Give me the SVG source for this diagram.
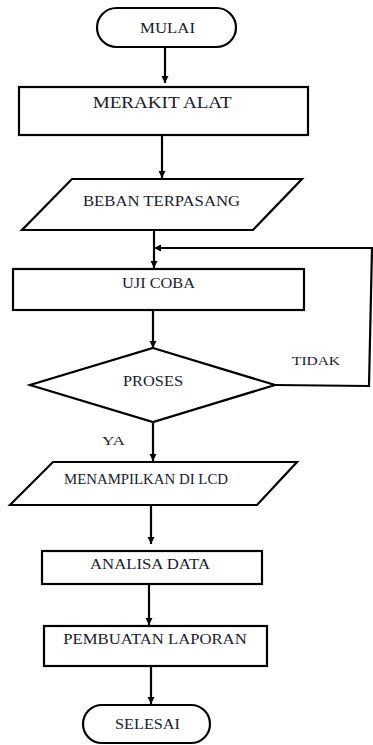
<svg xmlns="http://www.w3.org/2000/svg" width="373" height="745" viewBox="0 0 373 745">
<style>
.s{fill:#fff;stroke:#000;stroke-width:2.2}
.c{fill:none;stroke:#000;stroke-width:2.2}
text{font-family:'Liberation Serif','DejaVu Serif',serif;font-size:15px;fill:#1a1a2e}
</style>
<defs>
<marker id="ah" viewBox="0 0 8 8" refX="8" refY="4" markerWidth="3.4" markerHeight="3.2" orient="auto" markerUnits="strokeWidth">
<path d="M0,0 L8,4 L0,8 z" fill="#000"/>
</marker>
</defs>
<rect width="373" height="745" fill="#fff"/>
<g id="connectors">
<line class="c" x1="165" y1="47" x2="165" y2="83" marker-end="url(#ah)"/>
<line class="c" x1="162" y1="135" x2="162" y2="178" marker-end="url(#ah)"/>
<line class="c" x1="154" y1="230" x2="154" y2="268" marker-end="url(#ah)"/>
<line class="c" x1="153" y1="310" x2="153" y2="348" marker-end="url(#ah)"/>
<polyline class="c" points="275,385 369,386 372,248 154,248" marker-end="url(#ah)"/>
<line class="c" x1="153" y1="422" x2="153" y2="461" marker-end="url(#ah)"/>
<line class="c" x1="151" y1="505" x2="151" y2="544" marker-end="url(#ah)"/>
<line class="c" x1="149" y1="584" x2="149" y2="625" marker-end="url(#ah)"/>
<line class="c" x1="151" y1="666" x2="151" y2="704" marker-end="url(#ah)"/>
</g>
<g id="mulai">
<rect class="s" x="97" y="8" width="139" height="39" rx="19.5"/>
<text x="140" y="33" font-family="Liberation Serif, serif" textLength="55" lengthAdjust="spacingAndGlyphs">MULAI</text>
</g>
<g id="merakit">
<rect class="s" x="19" y="87" width="289" height="48"/>
<text x="92.7" y="107.7" font-family="Liberation Serif, serif" textLength="139" lengthAdjust="spacingAndGlyphs" style="font-size:16px">MERAKIT ALAT</text>
</g>
<g id="beban">
<polygon class="s" points="72,179 302,179 253,230 22,230"/>
<text x="83" y="206" font-family="Liberation Serif, serif" textLength="157" lengthAdjust="spacingAndGlyphs">BEBAN TERPASANG</text>
</g>
<g id="ujicoba">
<rect class="s" x="13" y="269" width="291" height="41"/>
<text x="122" y="288" font-family="Liberation Serif, serif" textLength="73" lengthAdjust="spacingAndGlyphs">UJI COBA</text>
</g>
<g id="proses">
<polygon class="s" points="153,348 275,385 153,422 30,385"/>
<text x="123" y="386" font-family="Liberation Serif, serif" textLength="60" lengthAdjust="spacingAndGlyphs">PROSES</text>
</g>
<g id="label-tidak">
<text x="292" y="365" font-family="Liberation Serif, serif" textLength="48" lengthAdjust="spacingAndGlyphs" style="font-size:13px">TIDAK</text>
</g>
<g id="label-ya">
<text x="102" y="445" font-family="Liberation Serif, serif" textLength="23" lengthAdjust="spacingAndGlyphs" style="font-size:13px">YA</text>
</g>
<g id="menampilkan">
<polygon class="s" points="53,462 297,462 257,505 10,505"/>
<text x="64" y="484" font-family="Liberation Serif, serif" textLength="164" lengthAdjust="spacingAndGlyphs" style="font-size:14px">MENAMPILKAN DI LCD</text>
</g>
<g id="analisa">
<rect class="s" x="42" y="551" width="220" height="33"/>
<text x="90" y="569" font-family="Liberation Serif, serif" textLength="120" lengthAdjust="spacingAndGlyphs">ANALISA DATA</text>
</g>
<g id="laporan">
<rect class="s" x="44" y="626" width="223" height="40"/>
<text x="63.3" y="644" font-family="Liberation Serif, serif" textLength="183.4" lengthAdjust="spacingAndGlyphs">PEMBUATAN LAPORAN</text>
</g>
<g id="selesai">
<rect class="s" x="83" y="705" width="127" height="38" rx="19"/>
<text x="115" y="729" font-family="Liberation Serif, serif" textLength="65" lengthAdjust="spacingAndGlyphs">SELESAI</text>
</g>
</svg>
